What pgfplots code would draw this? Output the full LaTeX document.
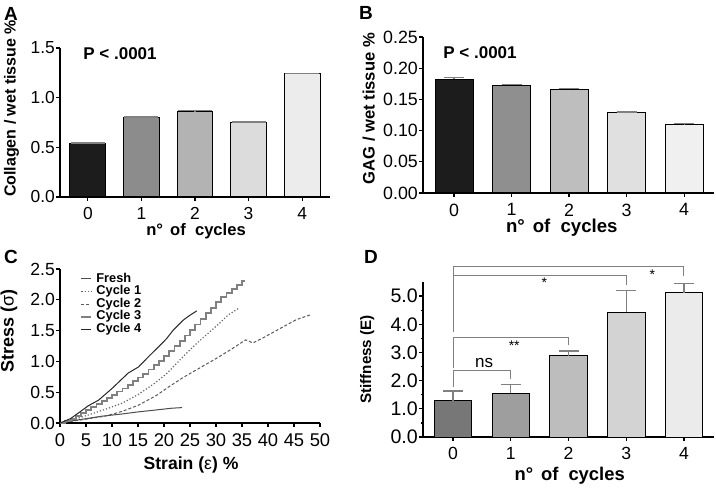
\documentclass[border=0pt]{standalone}
\usepackage{fontspec}
\setmainfont{Liberation Sans}
\usepackage{pgfplots}
\pgfplotsset{compat=1.18}
\definecolor{a0}{HTML}{1C1C1C}\definecolor{a1}{HTML}{8C8C8C}\definecolor{a2}{HTML}{B3B3B3}\definecolor{a3}{HTML}{DCDCDC}\definecolor{a4}{HTML}{ECECEC}
\definecolor{b0}{HTML}{1C1C1C}\definecolor{b1}{HTML}{8F8F8F}\definecolor{b2}{HTML}{BEBEBE}\definecolor{b3}{HTML}{E0E0E0}\definecolor{b4}{HTML}{F0F0F0}
\definecolor{d0}{HTML}{777777}\definecolor{d1}{HTML}{9E9E9E}\definecolor{d2}{HTML}{BDBDBD}\definecolor{d3}{HTML}{D3D3D3}\definecolor{d4}{HTML}{EBEBEB}
\newcommand{\fs}[1]{\fontsize{#1}{#1}\selectfont}
% \gbar{fill}{x}{y}{err}{bar width}{cap half-width}
\newcommand{\gbar}[6]{\addplot[ybar, bar width=#5, bar shift=0pt, fill=#1, draw=black, line width=0.5pt,
  error bars/.cd, y dir=plus, y explicit, error bar style={gray, line width=0.6pt},
  error mark options={rotate=90, gray, mark size=#6, line width=0.6pt}] coordinates {(#2,#3) +- (0,#4)};}
\begin{document}
\begin{tikzpicture}
\path[use as bounding box] (0,0) rectangle (358pt,243.5pt);
\pgfplotsset{
  base/.style={
    scale only axis, anchor=south west,
    axis x line*=bottom, axis y line*=left,
    tick pos=left,
    axis line style={-, line width=0.8pt, black},
    tick align=outside,
    tick style={black, line width=0.6pt},
    major tick length=1.8pt,
    minor tick length=1.2pt,
    yticklabel style={inner sep=0.6pt},
    /pgf/number format/assume math mode=true,
    clip=false,
  },
  barax/.style={base,
    xmin=-0.52, xmax=4.52, ymin=0,
    xtick={0,1,2,3,4},
    xlabel={n°\hspace{0.15em} of\hspace{0.55em}cycles},
  },
}
% ---------------- A
\begin{axis}[barax, at={(30pt,145pt)}, width=135pt, height=74.5pt,
  ymax=1.5, ytick={0,0.5,1,1.5},
  yticklabel style={/pgf/number format/.cd,fixed,fixed zerofill,precision=1},
  tick label style={font=\fs{8.7}},
  xlabel style={font=\bfseries\fs{8.3}, at={(axis description cs:0.504,-0.232)}, anchor=center},
  ylabel style={font=\bfseries\fs{8}, at={(axis description cs:-0.18,0.594)}, anchor=center},
  ylabel={Collagen / wet tissue \%}]
\gbar{a0}{0}{0.539}{0.005}{0.67}{8.5pt}
\gbar{a1}{1}{0.802}{0.004}{0.67}{8.5pt}
\gbar{a2}{2}{0.863}{0.004}{0.67}{8.5pt}
\gbar{a3}{3}{0.752}{0.004}{0.67}{8.5pt}
\gbar{a4}{4}{1.240}{0.005}{0.67}{8.5pt}
\end{axis}
% ---------------- B
\begin{axis}[barax, at={(211.5pt,147pt)}, width=145.5pt, height=78pt,
  xmin=-0.54,
  ymax=0.25, ytick={0,0.05,0.1,0.15,0.2,0.25},
  yticklabel style={/pgf/number format/.cd,fixed,fixed zerofill,precision=2},
  tick label style={font=\fs{8.9}},
  xlabel style={font=\bfseries\fs{9.3}, at={(axis description cs:0.477,-0.225)}, anchor=center},
  ylabel style={font=\bfseries\fs{8.3}, at={(axis description cs:-0.186,0.54)}, anchor=center},
  ylabel={GAG / wet tissue \%}]
\gbar{b0}{0}{0.182}{0.003}{0.66}{5pt}
\gbar{b1}{1}{0.173}{0.001}{0.66}{5pt}
\gbar{b2}{2}{0.166}{0.002}{0.66}{5pt}
\gbar{b3}{3}{0.129}{0.0008}{0.66}{5pt}
\gbar{b4}{4}{0.1095}{0.0025}{0.66}{5pt}
\end{axis}
% ---------------- C
\begin{axis}[base, at={(30pt,32pt)}, width=130pt, height=77pt,
  xmin=0, xmax=50, ymin=0, ymax=2.5,
  xtick={0,5,...,50}, ytick={0,0.5,1,1.5,2,2.5},
  yticklabel style={font=\fs{8.8}, /pgf/number format/.cd,fixed,fixed zerofill,precision=1},
  xticklabel style={font=\fs{9.2}},
  xlabel style={font=\bfseries\fs{8.8}, at={(axis description cs:0.504,-0.275)}, anchor=center},
  ylabel style={font=\bfseries\fs{9}, at={(axis description cs:-0.196,0.6)}, anchor=center},
  xlabel={Strain ({\mdseries ε}) \%}, ylabel={Stress ({\mdseries σ})},
  legend style={at={(0.077,0.985)}, anchor=north west, draw=none, fill=none,
    font=\bfseries\fs{6.4}, inner sep=0pt, row sep=-0.8pt,
    nodes={inner sep=0.6pt, text height=4.6pt, text depth=1.3pt}},
  legend cell align=left,
  legend image code/.code={\draw[#1] (0pt,0pt) -- (5pt,0pt); \path (6.5pt,0pt);}]
\addplot[black!70, line width=0.5pt] coordinates {(0,0) (2,0.03) (5.45,0.076) (8,0.11) (11.9,0.146) (15,0.18) (18.3,0.21) (21.5,0.24) (23.5,0.25)};
\addlegendentry{Fresh}
\addplot[black!60, line width=0.6pt, densely dotted] coordinates {(0,0) (2,0.04) (5.45,0.13) (8.65,0.22) (11.9,0.32) (15,0.46) (18.3,0.65) (20.5,0.8) (23.7,1.08) (26,1.27) (29.2,1.51) (30.8,1.63) (32.3,1.75) (34.3,1.86)};
\addlegendentry{Cycle 1}
\addplot[black!65, line width=0.5pt, dash pattern=on 1.5pt off 1pt] coordinates {(0,0) (4,0.05) (8.65,0.11) (12,0.19) (15.1,0.29) (18.6,0.45) (20.8,0.58) (23.7,0.74) (27,0.9) (30.1,1.05) (33,1.2) (35.7,1.35) (37.1,1.30) (39,1.38) (42.9,1.56) (45.5,1.68) (48.3,1.76)};
\addlegendentry{Cycle 2}
\addplot[black!50, line width=0.9pt, const plot] coordinates {(0,0) (1,0.03) (2,0.07) (3,0.11) (4,0.16) (5,0.21) (6,0.26) (7,0.31) (8,0.36) (9,0.41) (10,0.46) (11,0.51) (12,0.56) (13,0.62) (14,0.68) (15,0.74) (16,0.80) (17,0.87) (18,0.94) (19,1.01) (20,1.09) (21,1.17) (22,1.25) (23,1.33) (24,1.42) (25,1.51) (26,1.60) (27,1.69) (28,1.78) (29,1.87) (30,1.96) (31,2.04) (32,2.11) (33,2.18) (34,2.24) (35,2.30) (35.4,2.32)};
\addlegendentry{Cycle 3}
\addplot[black!85, line width=0.5pt] coordinates {(0,0) (2,0.07) (3.5,0.16) (5.45,0.28) (7.4,0.37) (10,0.56) (13.1,0.81) (15.1,0.91) (17.3,1.10) (19.6,1.29) (20.5,1.37) (21.8,1.51) (23.7,1.67) (25,1.75) (26.3,1.82)};
\addlegendentry{Cycle 4}
\end{axis}
% ---------------- D
\begin{axis}[barax, at={(211.5pt,25pt)}, width=145.5pt, height=77.5pt,
  ymax=5.5, ytick={0,1,2,3,4,5}, minor y tick num=1,
  yticklabel style={font=\fs{9.8}, /pgf/number format/.cd,fixed,fixed zerofill,precision=1},
  xticklabel style={font=\fs{8.8}},
  xlabel style={font=\bfseries\fs{9.2}, at={(axis description cs:0.504,-0.252)}, anchor=center},
  ylabel style={font=\bfseries\fs{7.6}, at={(axis description cs:-0.192,0.5)}, anchor=center},
  ylabel={Stiffness (E)}]
\gbar{d0}{0}{1.29}{0.34}{0.65}{5pt}
\gbar{d1}{1}{1.56}{0.29}{0.65}{5pt}
\gbar{d2}{2}{2.88}{0.17}{0.65}{5pt}
\gbar{d3}{3}{4.42}{0.79}{0.65}{5pt}
\gbar{d4}{4}{5.11}{0.33}{0.65}{5pt}
\draw[gray, line width=0.5pt] (axis cs:0,1.78) |- (axis cs:1,2.37) -- (axis cs:1,2.06);
\draw[gray, line width=0.5pt] (axis cs:0,2.44) |- (axis cs:2,3.54) -- (axis cs:2,3.26);
\draw[gray, line width=0.5pt] (axis cs:0,3.73) |- (axis cs:3,5.74) -- (axis cs:3,5.39);
\draw[gray, line width=0.5pt] (axis cs:0,5.74) |- (axis cs:4,6.04) -- (axis cs:4,5.72);
\node[font=\fs{8.5}] at (axis cs:0.54,2.62) {ns};
\node[font=\fs{7}] at (axis cs:1.06,3.25) {**};
\node[font=\fs{7}] at (axis cs:1.58,5.49) {*};
\node[font=\fs{7}] at (axis cs:3.45,5.77) {*};
\end{axis}
% labels
\node[font=\bfseries\fs{9.5}] at (5.5pt,236.5pt) {A};
\node[font=\bfseries\fs{9.5}] at (183pt,237pt) {B};
\node[font=\bfseries\fs{9.5}] at (5.5pt,115pt) {C};
\node[font=\bfseries\fs{9.5}] at (185.5pt,115pt) {D};
\node[font=\bfseries\fs{8.5}, anchor=west, inner sep=0pt] at (41.5pt,216.5pt) {P < .0001};
\node[font=\bfseries\fs{8.5}, anchor=west, inner sep=0pt] at (221.5pt,217pt) {P < .0001};
\end{tikzpicture}
\end{document}
